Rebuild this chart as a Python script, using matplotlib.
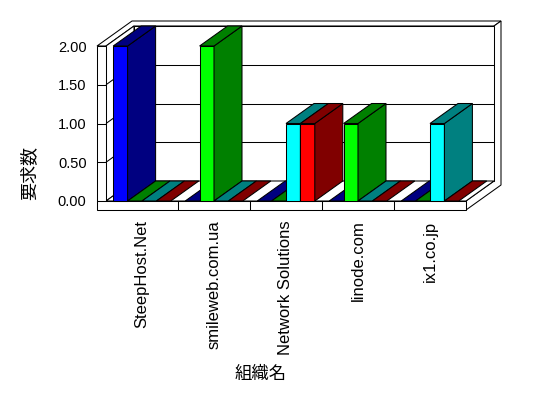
#!/usr/bin/env python3
# -*- coding: utf-8 -*-
"""組織名ごとの要求数 — 疑似3D棒グラフ (out.png)"""

import matplotlib
matplotlib.use("Agg")
import matplotlib.pyplot as plt
from matplotlib.patches import Polygon
import numpy as np

# data
categories = ["SteepHost.Net", "smileweb.com.ua", "Network Solutions", "linode.com", "ix1.co.jp"]
blue_vals = [2, 0, 0, 0, 0]
green_vals = [0, 2, 0, 1, 0]
cyan_vals = [0, 0, 1, 0, 1]
red_vals = [0, 0, 1, 0, 0]
yticks = [0.0, 0.5, 1.0, 1.5, 2.0]
ylabel = "要求数"
xlabel = "組織名"

# (values, front colour, side/top colour)
series = [
    (blue_vals, "#0000ff", "#000080"),
    (green_vals, "#00ff00", "#008000"),
    (cyan_vals, "#00ffff", "#008080"),
    (red_vals, "#ff0000", "#800000"),
]

plt.rcParams["font.family"] = ["Liberation Sans", "Noto Sans CJK JP"]

W, H = 548, 398
fig = plt.figure(figsize=(W / 100, H / 100), dpi=100)
# axes = front plane of the plot box (pixels 106..466 x 46..201)
ax = fig.add_axes([106 / W, (H - 201) / H, 360 / W, 155 / H])
ymax = max(yticks)
ncat = len(categories)
ax.set_xlim(0, ncat)
ax.set_ylim(0, ymax)
for s in ax.spines.values():
    s.set_visible(False)

px_x = 360 / ncat          # pixels per category
px_y = 155 / ymax          # pixels per unit
DX, DY = 28 / px_x, 20 / px_y   # depth vector in data units
WALL = 9 / px_x
FLOOR = 9 / px_y
BK = 1.25                  # back wall outer depth
LW = 0.75
zc = [1]


def P(x, v, t=0.0):
    return (x + t * DX, v + t * DY)


def poly(pts, fc, lw=LW):
    zc[0] += 1
    ax.add_patch(Polygon(pts, closed=True, facecolor=fc, edgecolor="black",
                         linewidth=lw, zorder=zc[0], clip_on=False,
                         joinstyle="miter"))


def line(p0, p1):
    zc[0] += 1
    ax.plot([p0[0], p1[0]], [p0[1], p1[1]], color="black", lw=LW,
            zorder=zc[0], clip_on=False, solid_capstyle="butt")


# walls / floor
poly([P(-WALL, ymax, 0), P(0, ymax, 0), P(0, ymax, 1), P(ncat, ymax, 1),
      P(ncat, ymax, BK), P(-WALL, ymax, BK)], "white")
poly([P(ncat, -FLOOR, 0), P(ncat, 0, 0), P(ncat, 0, 1), P(ncat, ymax, 1),
      P(ncat, ymax, BK), P(ncat, -FLOOR, BK)], "white")
poly([P(0, 0, 1), P(ncat, 0, 1), P(ncat, ymax, 1), P(0, ymax, 1)], "white")
poly([P(0, 0, 0), P(0, 0, 1), P(0, ymax, 1), P(0, ymax, 0)], "white")
poly([P(0, 0, 0), P(ncat, 0, 0), P(ncat, 0, 1), P(0, 0, 1)], "white")
poly([P(-WALL, 0), P(0, 0), P(0, ymax), P(-WALL, ymax)], "white")
poly([P(-WALL, -FLOOR), P(ncat, -FLOOR), P(ncat, 0), P(-WALL, 0)], "white")

for v in yticks[1:-1]:
    line(P(0, v, 1), P(ncat, v, 1))
    line(P(0, v, 0), P(0, v, 1))
    line(P(-WALL, v), P(0, v))
for k in range(1, ncat):
    line(P(k, -FLOOR), P(k, 0))

# bars, left to right
nser = len(series)
margin = 0.1
bw = (1 - 2 * margin) / nser
for i in range(ncat):
    for j, (vals, front, dark) in enumerate(series):
        h = vals[i]
        x0 = i + margin + j * bw
        x1 = x0 + bw
        if h > 0:
            poly([P(x0, 0), P(x1, 0), P(x1, h), P(x0, h)], front)
            poly([P(x1, 0), P(x1, 0, 1), P(x1, h, 1), P(x1, h)], dark)
        poly([P(x0, h), P(x1, h), P(x1, h, 1), P(x0, h, 1)], dark)

# ticks and labels
ax.set_yticks(yticks, [f"{v:.2f}" for v in yticks], fontsize=10.5)
ax.tick_params(axis="y", length=0, pad=14)
ax.set_xticks(np.arange(ncat) + 0.5, categories, rotation=90, fontsize=12)
ax.tick_params(axis="x", length=0, pad=14)

ax.set_xlabel(xlabel, fontsize=12.5, family=["Noto Sans CJK JP"])
ax.xaxis.set_label_coords((261 - 106) / 360, (201 - 365) / 155)
ax.set_ylabel(ylabel, fontsize=13, family=["Noto Sans CJK JP"], va="center")
ax.yaxis.set_label_coords((29 - 106) / 360, (201 - 173) / 155)

fig.savefig("out.png", dpi=100)
